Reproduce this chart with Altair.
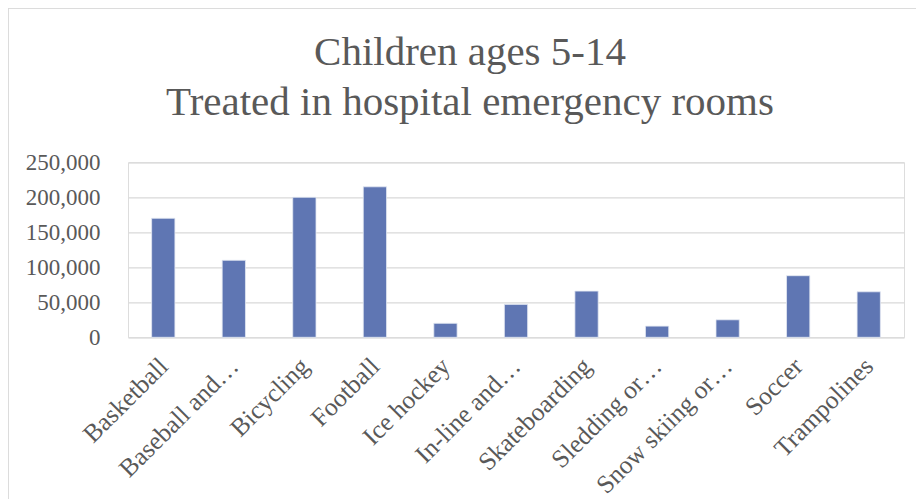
import altair as alt
import pandas as pd

categories = ["Basketball", "Baseball and…", "Bicycling", "Football", "Ice hockey",
              "In-line and…", "Skateboarding", "Sledding or…", "Snow skiing or…",
              "Soccer", "Trampolines"]
values = [170000, 110000, 200000, 215000, 20000, 47000, 66000, 16000, 25000, 88000, 65000]
y_ticks = [0, 50000, 100000, 150000, 200000, 250000]
title_lines = ["Children ages 5-14", "Treated in hospital emergency rooms"]

df = pd.DataFrame({"sport": categories, "count": values})

FONT = "Liberation Serif"
TXT = "#595959"

bars = alt.Chart(df).mark_bar(color="#5F76B3", stroke="#E3E8F3", strokeWidth=0.8).encode(
    x=alt.X("sport:N", sort=categories, title=None,
            scale=alt.Scale(paddingInner=0.67, paddingOuter=0.335),
            axis=alt.Axis(labelAngle=-45, labelFontSize=25.5, labelFont=FONT, labelColor=TXT,
                          ticks=False, domain=False, labelPadding=16, labelOffset=-8,
                          labelLimit=300, labelOverlap=False, grid=False)),
    y=alt.Y("count:Q", title=None,
            scale=alt.Scale(domain=[0, 250000], nice=False),
            axis=alt.Axis(values=y_ticks, labelExpr="format(datum.value, ',.0f')",
                          labelFontSize=23, labelFont=FONT,
                          labelColor=TXT, ticks=False, domain=False, labelPadding=28,
                          gridColor="#D9D9D9", gridWidth=1.3)),
)

border = alt.Chart(df).mark_rect(fill=None, stroke="#D9D9D9", strokeWidth=1.5).encode(
    x=alt.value(-120.5), y=alt.value(-154.8), x2=alt.value(900), y2=alt.value(400)
)

chart = alt.layer(border, bars).properties(
    width=776, height=175,
    title=alt.TitleParams(title_lines, font=FONT, fontSize=41, fontWeight="normal",
                          color=TXT, lineHeight=50, anchor="middle", dx=-46, offset=-117),
    autosize=alt.AutoSizeParams(type="none"),
    padding={"left": 120, "top": 154.3, "right": 12, "bottom": 162},
).configure_view(stroke=None).configure(background="white")

chart.save("out.html", embed_options={"renderer": "svg", "actions": False})
